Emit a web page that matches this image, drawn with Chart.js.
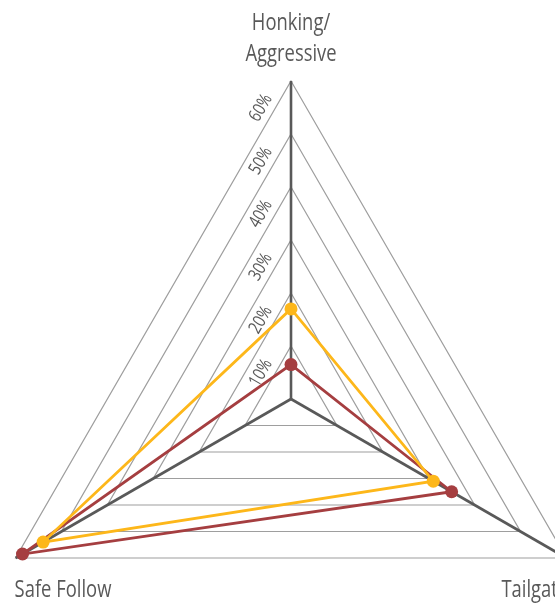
<!DOCTYPE html>
<html>
<head>
<meta charset="utf-8">
<script src="https://cdn.jsdelivr.net/npm/chart.js@4/dist/chart.umd.min.js"></script>
<style>
  html, body { margin: 0; padding: 0; background: #ffffff; overflow: hidden; width: 555px; height: 603px; }
  #wrap { position: absolute; left: -60px; top: -20px; }
</style>
</head>
<body>
<div id="wrap"><canvas id="chart" width="720" height="760"></canvas></div>
<script>
// Axes of the radar, clockwise from the top
const categories = [['Honking/', 'Aggressive'], 'Tailgating', 'Safe Follow'];

// Share of responses per behaviour (%)
const yellowValues = [17, 31, 54];
const redValues = [6.5, 35, 58.5];

// Radial tick marks and their labels
const tickValues = [10, 20, 30, 40, 50, 60];
const tickLabels = ['10%', '20%', '30%', '40%', '50%', '60%'];

const TEXT_COLOR = '#595959';
const FONT_FAMILY = '"Open Sans", sans-serif';
const CONDENSE = 0.8;   // narrow the type horizontally

// Writes text with a horizontal squeeze so it reads as a condensed face
function condensedText(ctx, text, x, y, align) {
  ctx.save();
  ctx.translate(x, y);
  ctx.scale(CONDENSE, 1);
  ctx.textAlign = align;
  ctx.fillText(text, 0, 0);
  ctx.restore();
}

// Draws the rotated tick labels along the left edge and the axis titles
const radarText = {
  id: 'radarText',
  beforeDatasetsDraw(chart) {
    const scale = chart.scales.r;
    const ctx = chart.ctx;
    ctx.save();
    ctx.fillStyle = TEXT_COLOR;
    ctx.font = '18px ' + FONT_FAMILY;
    ctx.textBaseline = 'middle';
    tickValues.forEach((v, i) => {
      const p = scale.getPointPositionForValue(0, v);
      ctx.save();
      ctx.translate(p.x - 30, p.y + 27);
      ctx.rotate(-Math.PI / 3);
      condensedText(ctx, tickLabels[i], 0, 0, 'center');
      ctx.restore();
    });
    ctx.restore();
  },
  afterDraw(chart) {
    const scale = chart.scales.r;
    const ctx = chart.ctx;
    ctx.save();
    ctx.fillStyle = TEXT_COLOR;
    ctx.font = '23px ' + FONT_FAMILY;
    ctx.textBaseline = 'alphabetic';
    const labels = chart.data.labels;
    // top axis title, two centred lines above the vertex
    const top = scale.getPointPosition(0, scale.drawingArea);
    labels[0].forEach((line, k) => {
      condensedText(ctx, line, top.x, top.y - 51 + k * 30.5, 'center');
    });
    // bottom-right axis title
    const right = scale.getPointPosition(1, scale.drawingArea);
    condensedText(ctx, labels[1], right.x - 65, right.y + 39, 'left');
    // bottom-left axis title
    const left = scale.getPointPosition(2, scale.drawingArea);
    condensedText(ctx, labels[2], left.x - 1, left.y + 39, 'left');
    ctx.restore();
  }
};

new Chart(document.getElementById('chart'), {
  type: 'radar',
  data: {
    labels: categories,
    datasets: [
      {
        label: 'Yellow',
        data: yellowValues,
        borderColor: '#FDB71A',
        backgroundColor: '#FDB71A',
        pointBackgroundColor: '#FDB71A',
        pointBorderWidth: 0,
        pointRadius: 6.5,
        borderWidth: 2.8,
        fill: false
      },
      {
        label: 'Red',
        data: redValues,
        borderColor: '#A53E40',
        backgroundColor: '#A53E40',
        pointBackgroundColor: '#A53E40',
        pointBorderWidth: 0,
        pointRadius: 6.5,
        borderWidth: 2.8,
        fill: false
      }
    ]
  },
  options: {
    responsive: false,
    animation: false,
    layout: { padding: { left: 33, top: 101, right: 51, bottom: 23 } },
    plugins: {
      legend: { display: false },
      tooltip: { enabled: false }
    },
    elements: { line: { tension: 0 } },
    scales: {
      r: {
        min: 0,
        max: 60,
        startAngle: 0,
        ticks: { display: false, stepSize: 10 },
        pointLabels: { display: false },
        grid: { circular: false, color: '#9E9E9E', lineWidth: 1.2 },
        angleLines: { display: true, color: '#595959', lineWidth: 2.6 }
      }
    }
  },
  plugins: [radarText]
});
</script>
</body>
</html>
